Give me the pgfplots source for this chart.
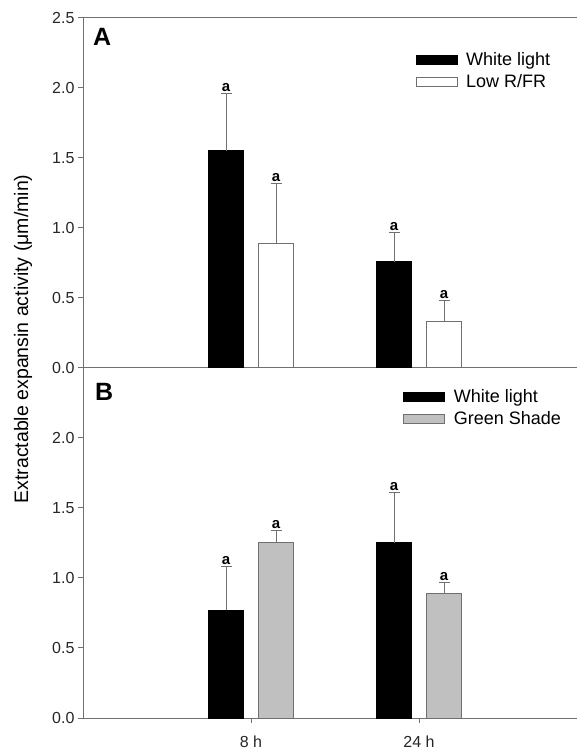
\documentclass[border=0pt]{standalone}
\usepackage{fontspec}
\setmainfont{Liberation Sans}
\usepackage{pgfplots}
\pgfplotsset{compat=1.18}

\definecolor{axgray}{RGB}{112,112,112}
\definecolor{shade}{RGB}{192,192,192}

\tikzset{sig/.style={font=\bfseries\fontsize{15}{16}\selectfont, anchor=south, inner sep=0pt, yshift=1.5pt}}

\pgfplotsset{
  panel/.style={
    scale only axis, width=494pt, height=350pt,
    xmin=0, xmax=2.94, ymin=0, ymax=2.5,
    axis x line*=bottom, axis y line*=left,
    axis line style={axgray, line width=1pt},
    tick style={axgray, line width=1pt},
    tick align=outside, major tick length=5pt,
    ybar=15pt, bar width=35pt,
    /pgf/number format/assume math mode=true,
    yticklabel style={font=\fontsize{16}{18}\selectfont, text=black!85,
      /pgf/number format/fixed, /pgf/number format/fixed zerofill,
      /pgf/number format/precision=1},
    xticklabel style={font=\fontsize{16}{18}\selectfont, text=black!85, yshift=-9pt},
    legend cell align=left,
    legend style={draw=none, fill=none, font=\fontsize{18}{20}\selectfont,
      row sep=3pt, inner sep=0pt, anchor=north west},
    legend image code/.code={\draw[#1, line width=1pt] (0pt,-4.5pt) rectangle (41pt,4.5pt);
      \path[draw=none, fill=none] (0pt,0pt) -- (48pt,0pt);},
  },
  bars/.style={line width=1pt,
    error bars/y dir=plus, error bars/y explicit,
    error bars/error bar style={axgray, line width=1pt},
    error bars/error mark options={rotate=90, axgray, line width=1pt, mark size=5.5pt}},
}

\begin{document}
\begin{tikzpicture}[x=1pt, y=1pt]
\useasboundingbox (0,0) rectangle (577,751);

% panel A
\begin{axis}[panel, at={(83pt,383pt)}, anchor=south west,
  xtick=\empty, ytick={0,0.5,1,1.5,2,2.5},
  legend style={at={(0.673,0.907)}}]
\addplot[bars, fill=black, draw=black] coordinates {
  (1,1.55) +- (0,0.41)
  (2,0.76) +- (0,0.21)
};
\addplot[bars, fill=white, draw=axgray] coordinates {
  (1,0.89) +- (0,0.43)
  (2,0.33) +- (0,0.15)
};
\legend{White light, Low R/FR}
\draw[axgray, line width=1pt] (rel axis cs:0,1) -- (rel axis cs:1,1);
\node[sig] at (axis cs:0.851,1.96) {a};
\node[sig] at (axis cs:1.149,1.32) {a};
\node[sig] at (axis cs:1.851,0.97) {a};
\node[sig] at (axis cs:2.149,0.48) {a};
\end{axis}

% panel B
\begin{axis}[panel, at={(83pt,33pt)}, anchor=south west,
  xtick={1,2}, xticklabels={8 h, 24 h}, ytick={0,0.5,1,1.5,2},
  legend style={at={(0.648,0.944)}}]
\addplot[bars, fill=black, draw=black] coordinates {
  (1,0.77) +- (0,0.31)
  (2,1.25) +- (0,0.36)
};
\addplot[bars, fill=shade, draw=axgray] coordinates {
  (1,1.25) +- (0,0.09)
  (2,0.89) +- (0,0.08)
};
\legend{White light, Green Shade}
\node[sig] at (axis cs:0.851,1.08) {a};
\node[sig] at (axis cs:1.149,1.34) {a};
\node[sig] at (axis cs:1.851,1.61) {a};
\node[sig] at (axis cs:2.149,0.97) {a};
\end{axis}

\node[anchor=north west, inner sep=0pt, font=\bfseries\fontsize{25}{26}\selectfont] at (93,723) {A};
\node[anchor=north west, inner sep=0pt, font=\bfseries\fontsize{25}{26}\selectfont] at (95,368) {B};
\node[rotate=90, font=\fontsize{19.5}{21}\selectfont] at (23,412) {Extractable expansin activity (μm/min)};
\end{tikzpicture}
\end{document}
